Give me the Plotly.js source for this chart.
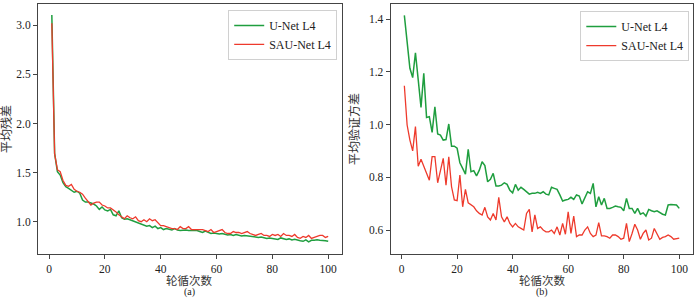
<!DOCTYPE html>
<html>
<head>
<meta charset="utf-8">
<script src="https://cdn.plot.ly/plotly-3.0.1.min.js"></script>
<style>html,body{margin:0;padding:0;background:#fff;}#chart{width:700px;height:300px;}</style>
</head>
<body>
<div id="chart"></div>
<script>
const epochs = Array.from({length: 100}, (_, i) => i + 1);

const seriesNames = ['U-Net L4', 'SAU-Net L4'];
const xTitle = '轮循次数';
const yTitleA = '平均残差';
const yTitleB = '平均验证方差';
const panelLabels = ['(a)', '(b)'];

const trainUNet = [
3.105,1.696,1.51,1.475,1.397,1.357,1.34,1.32,1.30,1.31,
1.29,1.22,1.20,1.20,1.19,1.18,1.16,1.125,1.15,1.12,
1.11,1.125,1.07,1.06,1.11,1.04,1.025,1.03,1.02,1.01,
1.00,0.99,0.98,0.97,0.955,0.96,0.94,0.955,0.93,0.94,
0.92,0.93,0.92,0.915,0.93,0.915,0.91,0.915,0.915,0.91,
0.91,0.905,0.91,0.90,0.89,0.905,0.89,0.88,0.885,0.88,
0.875,0.88,0.87,0.865,0.87,0.86,0.87,0.865,0.855,0.86,
0.855,0.85,0.85,0.845,0.84,0.845,0.835,0.83,0.835,0.83,
0.83,0.82,0.835,0.825,0.82,0.825,0.815,0.82,0.81,0.805,
0.80,0.815,0.795,0.81,0.81,0.815,0.81,0.81,0.805,0.80];

const trainSAU = [
3.02,1.69,1.53,1.51,1.42,1.37,1.36,1.38,1.33,1.31,
1.30,1.28,1.24,1.21,1.17,1.19,1.20,1.20,1.17,1.16,
1.14,1.14,1.12,1.10,1.07,1.05,1.03,1.06,1.04,1.03,
1.05,1.01,1.00,1.02,1.00,1.03,1.01,1.02,0.99,0.96,
0.96,0.95,0.94,0.93,0.93,0.92,0.95,0.93,0.93,0.95,
0.92,0.92,0.92,0.92,0.92,0.91,0.90,0.92,0.89,0.90,
0.91,0.92,0.89,0.88,0.88,0.90,0.89,0.89,0.88,0.89,
0.90,0.88,0.87,0.86,0.87,0.88,0.86,0.86,0.85,0.87,
0.86,0.87,0.85,0.88,0.86,0.86,0.85,0.87,0.84,0.83,
0.85,0.84,0.86,0.83,0.84,0.85,0.86,0.86,0.84,0.85];

const valUNet = [
1.414,1.308,1.213,1.178,1.272,1.169,1.065,1.194,1.027,1.03,
0.97,1.067,0.964,0.96,0.941,0.943,1.002,0.918,0.918,0.91,
0.855,0.834,0.812,0.906,0.821,0.825,0.805,0.827,0.859,0.844,
0.783,0.792,0.815,0.767,0.767,0.77,0.779,0.773,0.751,0.741,
0.773,0.751,0.762,0.754,0.745,0.736,0.739,0.739,0.743,0.739,
0.745,0.736,0.733,0.762,0.758,0.754,0.733,0.71,0.714,0.716,
0.724,0.716,0.733,0.729,0.699,0.72,0.745,0.739,0.777,0.688,
0.726,0.695,0.72,0.682,0.682,0.686,0.691,0.688,0.686,0.673,
0.72,0.682,0.682,0.663,0.682,0.66,0.665,0.653,0.678,0.673,
0.669,0.673,0.665,0.66,0.657,0.695,0.697,0.695,0.695,0.682];

const valSAU = [
1.147,0.998,0.941,0.90,0.992,0.842,0.868,0.84,0.815,0.789,
0.878,0.878,0.779,0.821,0.872,0.77,0.878,0.764,0.714,0.711,
0.808,0.688,0.754,0.703,0.695,0.688,0.673,0.663,0.657,0.686,
0.65,0.638,0.663,0.638,0.724,0.65,0.631,0.65,0.625,0.612,
0.625,0.612,0.606,0.60,0.663,0.678,0.593,0.657,0.606,0.612,
0.60,0.593,0.593,0.60,0.587,0.612,0.581,0.625,0.584,0.669,
0.587,0.653,0.575,0.581,0.581,0.60,0.612,0.587,0.575,0.581,
0.628,0.578,0.578,0.575,0.569,0.581,0.581,0.575,0.565,0.569,
0.625,0.556,0.587,0.622,0.60,0.565,0.587,0.60,0.562,0.569,
0.606,0.587,0.565,0.572,0.575,0.581,0.575,0.565,0.567,0.569];

const xTickVals = [0, 20, 40, 60, 80, 100];
const yTicksA = [1.0, 1.5, 2.0, 2.5, 3.0];
const yTicksB = [0.6, 0.8, 1.0, 1.2, 1.4];

const GREEN = '#1f9e3f';
const RED = '#ee3a2c';
const SERIF = '"Liberation Serif", "Times New Roman", "Noto Sans CJK SC", serif';
const CJK = '"Liberation Serif", "Noto Sans CJK SC", serif';

const traces = [
  {x: epochs, y: trainUNet, name: seriesNames[0], mode: 'lines', line: {color: GREEN, width: 1.5}, xaxis: 'x', yaxis: 'y', legend: 'legend'},
  {x: epochs, y: trainSAU, name: seriesNames[1], mode: 'lines', line: {color: RED, width: 1.3}, xaxis: 'x', yaxis: 'y', legend: 'legend'},
  {x: epochs, y: valUNet, name: seriesNames[0], mode: 'lines', line: {color: GREEN, width: 1.5}, xaxis: 'x2', yaxis: 'y2', legend: 'legend2'},
  {x: epochs, y: valSAU, name: seriesNames[1], mode: 'lines', line: {color: RED, width: 1.3}, xaxis: 'x2', yaxis: 'y2', legend: 'legend2'}
];

function xax(domain, anchor) {
  return {
    domain: domain, anchor: anchor, range: [-3.95, 104.95],
    tickvals: xTickVals, ticks: 'outside', ticklen: 4, tickcolor: '#444',
    showline: true, mirror: true, linecolor: '#444', linewidth: 1,
    showgrid: false, zeroline: false,
    tickfont: {family: SERIF, size: 11.5, color: '#222'}
  };
}
function yax(domain, anchor, range, vals, fmt, title) {
  return {
    domain: domain, anchor: anchor, range: range,
    tickvals: vals, tickformat: fmt, ticks: 'outside', ticklen: 4, tickcolor: '#444',
    showline: true, mirror: true, linecolor: '#444', linewidth: 1,
    showgrid: false, zeroline: false,
    tickfont: {family: SERIF, size: 11.5, color: '#222'},
    title: {text: title, font: {family: CJK, size: 12, color: '#333'}, standoff: 6}
  };
}

const legendBase = {xanchor: 'left', yanchor: 'top', bgcolor: 'rgba(255,255,255,0.9)', bordercolor: '#d0d0d0', borderwidth: 1, font: {family: SERIF, size: 12, color: '#222'}, tracegroupgap: 2};

const centerA = (38 + 342) / 2 / 700;
const centerB = (390.7 + 693.3) / 2 / 700;

function txt(text, x, y, yanchor, size, color) {
  return {text: text, xref: 'paper', yref: 'paper', x: x, y: y, xanchor: 'center', yanchor: yanchor, showarrow: false, font: {family: CJK, size: size, color: color}};
}

const layout = {
  width: 700, height: 300,
  margin: {l: 0, r: 0, t: 0, b: 0},
  paper_bgcolor: '#fff', plot_bgcolor: '#fff',
  showlegend: true,
  xaxis: xax([0.0543, 0.4886], 'y'),
  yaxis: yax([0.1533, 0.9867], 'x', [0.671, 3.217], yTicksA, '.1f', yTitleA),
  xaxis2: xax([0.558, 0.990], 'y2'),
  yaxis2: yax([0.1533, 0.9867], 'x2', [0.509, 1.457], yTicksB, '.1f', yTitleB),
  legend: Object.assign({x: 0.326, y: 0.967}, legendBase),
  legend2: Object.assign({x: 0.829, y: 0.963}, legendBase),
  annotations: [
    txt(xTitle, centerA, 1 - 280 / 300, 'middle', 11.5, '#333'),
    txt(xTitle, centerB, 1 - 280 / 300, 'middle', 11.5, '#333'),
    txt(panelLabels[0], centerA, 0, 'bottom', 10, '#222'),
    txt(panelLabels[1], centerB, 0, 'bottom', 10, '#222')
  ]
};

Plotly.newPlot('chart', traces, layout, {displayModeBar: false, staticPlot: true});
</script>
</body>
</html>
